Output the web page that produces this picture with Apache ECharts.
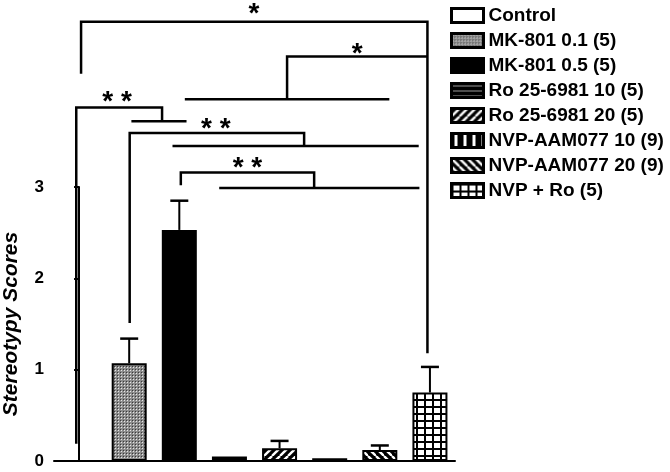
<!DOCTYPE html>
<html><head><meta charset="utf-8">
<script src="https://cdn.jsdelivr.net/npm/echarts@6/dist/echarts.min.js"></script>
<style>html,body{margin:0;padding:0;background:#fff}#c{width:670px;height:472px}</style>
</head><body><div id="c"></div>
<script>
// ---- data ----
const groups = ['Control','MK-801 0.1 (5)','MK-801 0.5 (5)','Ro 25-6981 10 (5)','Ro 25-6981 20 (5)','NVP-AAM077 10 (9)','NVP-AAM077 20 (9)','NVP + Ro (5)'];
const means = [0, 1.07, 2.53, 0.05, 0.14, 0.03, 0.12, 0.75];
const errTops = [null, 1.34, 2.85, null, 0.22, null, 0.17, 1.03];
const yTicks = [0, 1, 2, 3];
// significance brackets, in data units (x = category position, y = score)
const bracketPaths = [
  [[0.04,4.24],[0.04,4.81],[6.95,4.81],[6.95,1.18]],
  [[4.15,3.96],[4.15,4.43],[6.95,4.43]],
  [[2.11,3.96],[6.19,3.96]],
  [[-0.056,0.19],[-0.056,3.87],[1.656,3.87],[1.656,3.72]],
  [[1.044,3.72],[2.144,3.72]],
  [[1.01,1.51],[1.01,3.59],[4.49,3.59],[4.49,3.45]],
  [[1.864,3.45],[6.776,3.45]],
  [[2.03,3.02],[2.03,3.16],[4.69,3.16],[4.69,2.99]],
  [[2.796,2.99],[6.79,2.99]]
];
const starLabels = [
  ['*', 3.49, 4.96],
  ['*', 5.55, 4.52],
  ['* *', 0.76, 3.99],
  ['* *', 2.73, 3.70],
  ['* *', 3.36, 3.27]
];

// ---- fill patterns ----
function makePattern(w, h, draw) {
  const c = document.createElement('canvas');
  c.width = w; c.height = h;
  const g = c.getContext('2d');
  draw(g, w, h);
  return { image: c, repeat: 'repeat' };
}
const patterns = [
  '#ffffff',
  makePattern(3, 3, (g) => { g.fillStyle = '#8c8c8c'; g.fillRect(0,0,3,3); g.fillStyle = '#e6e6e6'; g.fillRect(1,1,1,1); g.fillStyle = '#3a3a3a'; g.fillRect(0,0,1,1); }),
  '#000000',
  makePattern(4, 5, (g) => { g.fillStyle = '#000'; g.fillRect(0,0,4,5); g.fillStyle = '#9a9a9a'; g.fillRect(0,2,4,1); }),
  makePattern(8, 8, (g, w, h) => { g.fillStyle = '#000'; g.fillRect(0,0,w,h); g.strokeStyle = '#fff'; g.lineWidth = 2.4;
    for (const k of [-w, 0, w]) { g.beginPath(); g.moveTo(k, h); g.lineTo(k + w, 0); g.stroke(); } }),
  makePattern(9, 4, (g) => { g.fillStyle = '#000'; g.fillRect(0,0,9,4); g.fillStyle = '#fff'; g.fillRect(3,0,3,4); }),
  makePattern(8, 8, (g, w, h) => { g.fillStyle = '#000'; g.fillRect(0,0,w,h); g.strokeStyle = '#fff'; g.lineWidth = 2.4;
    for (const k of [-w, 0, w]) { g.beginPath(); g.moveTo(k, 0); g.lineTo(k + w, h); g.stroke(); } }),
  makePattern(8, 7, (g) => { g.fillStyle = '#fff'; g.fillRect(0,0,8,7); g.fillStyle = '#000'; g.fillRect(0,0,8,2); g.fillRect(0,0,2,7); })
];

const FONT = '"Liberation Sans", Arial, sans-serif';
const chart = echarts.init(document.getElementById('c'), null, { renderer: 'canvas' });

const barSeries = groups.map((name, i) => ({
  name: name,
  type: 'bar',
  barWidth: 35,
  barGap: '-100%',
  data: means.map((v, j) => (j === i ? v : '-')),
  itemStyle: { color: patterns[i], borderColor: '#000', borderWidth: 2 },
  emphasis: { disabled: true },
  animation: false,
  z: 2
}));

const errData = [];
errTops.forEach((t, i) => { if (t !== null) errData.push([i, means[i], t]); });

const option = {
  animation: false,
  backgroundColor: '#fff',
  grid: { left: 54, right: 215, top: 187, bottom: 11, containLabel: false, outerBoundsMode: 'none' },
  legend: {
    data: groups,
    orient: 'vertical',
    left: 450, top: 6, padding: 0,
    itemWidth: 32, itemHeight: 14, itemGap: 6,
    icon: 'rect',
    selectedMode: false,
    itemStyle: { borderColor: '#000', borderWidth: 3 },
    textStyle: { fontFamily: FONT, fontWeight: 'bold', fontSize: 19, color: '#000' }
  },
  xAxis: [
    { type: 'category', data: groups, axisLine: { lineStyle: { color: '#000', width: 2 } },
      axisTick: { show: false }, axisLabel: { show: false }, splitLine: { show: false } },
    { type: 'value', min: -0.5, max: 7.5, show: false }
  ],
  yAxis: {
    type: 'value', min: 0, max: 3, interval: 1,
    name: 'Stereotypy Scores', nameLocation: 'middle', nameGap: 32, nameMoveOverlap: false,
    nameTextStyle: { fontFamily: FONT, fontWeight: 'bold', fontStyle: 'italic', fontSize: 21, color: '#000' },
    axisLine: { show: true, lineStyle: { color: '#000', width: 2 } },
    axisTick: { show: true, length: 5, lineStyle: { color: '#000', width: 2 } },
    axisLabel: { fontFamily: FONT, fontWeight: 'bold', fontSize: 17, color: '#000', margin: 10,
      formatter: (v) => (yTicks.indexOf(v) >= 0 ? String(v) : '') },
    splitLine: { show: false }
  },
  series: barSeries.concat([
    {
      type: 'custom', name: 'err', data: errData, clip: false, z: 3, silent: true,
      renderItem: (params, api) => {
        const i = api.value(0), m = api.value(1), t = api.value(2);
        const p0 = api.coord([i, m]), p1 = api.coord([i, t]);
        return { type: 'group', children: [
          { type: 'line', shape: { x1: p0[0], y1: p0[1], x2: p1[0], y2: p1[1] }, style: { stroke: '#000', lineWidth: 2 } },
          { type: 'line', shape: { x1: p1[0] - 9, y1: p1[1], x2: p1[0] + 9, y2: p1[1] }, style: { stroke: '#000', lineWidth: 2.5 } }
        ] };
      }
    },
    {
      type: 'custom', name: 'brackets', xAxisIndex: 1, yAxisIndex: 0, clip: false, z: 4, silent: true,
      data: bracketPaths.map((p, k) => [k]),
      renderItem: (params, api) => {
        const pts = bracketPaths[params.dataIndex].map((p) => api.coord(p));
        return { type: 'polyline', shape: { points: pts }, style: { stroke: '#000', lineWidth: 2.5, fill: null } };
      }
    },
    {
      type: 'custom', name: 'stars', xAxisIndex: 1, yAxisIndex: 0, clip: false, z: 4, silent: true,
      data: starLabels.map((s) => [s[1], s[2]]),
      renderItem: (params, api) => {
        const p = api.coord([api.value(0), api.value(1)]);
        return { type: 'text', x: p[0], y: p[1] + 6,
          style: { text: starLabels[params.dataIndex][0], fill: '#000', font: 'bold 28px ' + FONT, align: 'center', verticalAlign: 'middle' } };
      }
    }
  ])
};
chart.setOption(option);
</script>
</body></html>
